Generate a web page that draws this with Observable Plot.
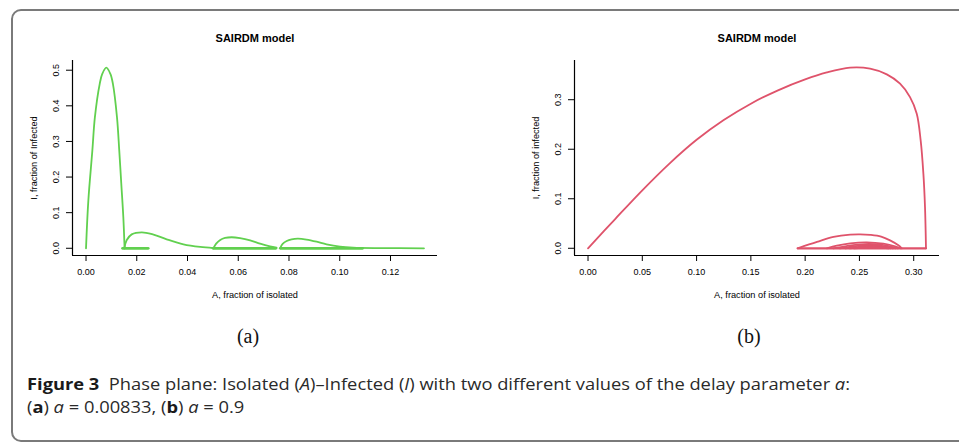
<!DOCTYPE html>
<html>
<head>
<meta charset="utf-8">
<script src="https://cdn.jsdelivr.net/npm/d3@7"></script>
<script src="https://cdn.jsdelivr.net/npm/@observablehq/plot@0.6"></script>
<style>
  html, body { margin: 0; padding: 0; background: #fff; }
  #page { position: relative; width: 959px; height: 442px; overflow: hidden; background: #fff; }
  #frame { position: absolute; left: 11px; top: 9px; width: 1100px; height: 433px; box-sizing: border-box;
           border: 2px solid #7a7a7a; border-radius: 10px; z-index: 5; pointer-events: none; }
  .panel { position: absolute; top: 0; }
  .panel svg { background: transparent !important; }
  .sub { position: absolute; font-family: "Liberation Serif", "DejaVu Serif", serif; font-size: 20px; line-height: 1;
         transform: translate(-50%, -50%); color: #111; }
  #caption { position: absolute; left: 27px; top: 373px; font-family: "Open Sans", "Noto Sans", sans-serif; font-size: 16px;
             line-height: 23px; color: #2a2a2a; white-space: nowrap; transform-origin: 0 0; }
  #caption b { font-weight: 700; color: #1a1a1a; }
</style>
</head>
<body>
<div id="page">
  <div id="frame"></div>
  <div id="left" class="panel" style="left:0px"></div>
  <div id="right" class="panel" style="left:480px"></div>
  <div class="sub" style="left:248px; top:336px">(a)</div>
  <div class="sub" style="left:749px; top:336px">(b)</div>
  <div id="caption">
    <div><span id="cap1"><b>Figure 3</b>&nbsp; Phase plane: Isolated (<i>A</i>)–Infected (<i>I</i>) with two different values of the delay parameter <i>a</i>:</span></div>
    <div>(<b>a</b>) <i>a</i> = 0.00833, (<b>b</b>) <i>a</i> = 0.9</div>
  </div>
</div>
<script>
// ---------- Panel (a): a = 0.00833 ----------
const leftTitle = "SAIRDM model";
const leftXLabel = "A, fraction of isolated";
const leftYLabel = "I, fraction of Infected";
const leftXTicks = [0, 0.02, 0.04, 0.06, 0.08, 0.10, 0.12];
const leftXTickLabels = ["0.00", "0.02", "0.04", "0.06", "0.08", "0.10", "0.12"];
const leftYTicks = [0, 0.1, 0.2, 0.3, 0.4, 0.5];
const leftYTickLabels = ["0.0", "0.1", "0.2", "0.3", "0.4", "0.5"];

// trajectory pieces (A values, I values)
const leftCurveA = [
  [0, 0.00092, 0.0025, 0.0035, 0.0054, 0.0064, 0.0080, 0.0096, 0.0106, 0.0122, 0.0131, 0.0139, 0.0147, 0.0152],
  [0.0151, 0.0160, 0.0180, 0.0220, 0.0266, 0.0318, 0.0384, 0.0450, 0.0502],
  [0.0502, 0.0513, 0.0529, 0.0548, 0.0574, 0.0607, 0.0647, 0.0686, 0.0725, 0.0751],
  [0.0765, 0.0775, 0.0791, 0.0810, 0.0835, 0.0869, 0.0909, 0.0948, 0.1001, 0.1053, 0.1158, 0.1332]
];
const leftCurveI = [
  [0, 0.1346, 0.2748, 0.3682, 0.4617, 0.4897, 0.5070, 0.4897, 0.4617, 0.3682, 0.2748, 0.1813, 0.0879, 0],
  [0, 0.0224, 0.0390, 0.0449, 0.0383, 0.0252, 0.0112, 0.0037, 0.0005],
  [0, 0.0130, 0.0234, 0.0290, 0.0310, 0.0285, 0.0222, 0.0130, 0.0056, 0.0020],
  [0, 0.0125, 0.0205, 0.0250, 0.0270, 0.0245, 0.0185, 0.0112, 0.0047, 0.0019, 0.0005, 0]
];
// segments retraced along I = 0
const leftBaseA = [[0.0144, 0.0245], [0.0501, 0.0748], [0.0766, 0.1090]];

// ---------- Panel (b): a = 0.9 ----------
const rightTitle = "SAIRDM model";
const rightXLabel = "A, fraction of isolated";
const rightYLabel = "I, fraction of infected";
const rightXTicks = [0, 0.05, 0.10, 0.15, 0.20, 0.25, 0.30];
const rightXTickLabels = ["0.00", "0.05", "0.10", "0.15", "0.20", "0.25", "0.30"];
const rightYTicks = [0, 0.1, 0.2, 0.3];
const rightYTickLabels = ["0.0", "0.1", "0.2", "0.3"];

const rightCurveA = [
  [0, 0.025, 0.050, 0.075, 0.100, 0.125, 0.150, 0.175, 0.200, 0.220, 0.2414, 0.2598, 0.2752, 0.2874, 0.2966, 0.3028, 0.3064, 0.3089, 0.3104, 0.3113],
  [0.1931, 0.2109, 0.2261, 0.2415, 0.2506, 0.2600, 0.2700, 0.2782, 0.2859, 0.2890],
  [0.2200, 0.2292, 0.2415, 0.2568, 0.2721, 0.2828, 0.2874],
  [0.2260, 0.2380, 0.2550, 0.2700, 0.2800, 0.2855],
  [0.2320, 0.2430, 0.2560, 0.2690, 0.2780, 0.2835],
  [0.2370, 0.2470, 0.2570, 0.2680, 0.2760, 0.2810],
  [0.2410, 0.2500, 0.2580, 0.2670, 0.2740, 0.2790],
  [0.2450, 0.2520, 0.2590, 0.2660, 0.2720, 0.2770]
];
const rightCurveI = [
  [0, 0.059, 0.117, 0.171, 0.219, 0.259, 0.292, 0.319, 0.341, 0.355, 0.3646, 0.3626, 0.3511, 0.3323, 0.3053, 0.2717, 0.2179, 0.1507, 0.0834, 0],
  [0, 0.0128, 0.0229, 0.0276, 0.0282, 0.0270, 0.0235, 0.0160, 0.0060, 0],
  [0, 0.0054, 0.0101, 0.0121, 0.0094, 0.0040, 0],
  [0, 0.0045, 0.0085, 0.0072, 0.0030, 0],
  [0, 0.0035, 0.0062, 0.0052, 0.0020, 0],
  [0, 0.0025, 0.0044, 0.0037, 0.0015, 0],
  [0, 0.0016, 0.0030, 0.0025, 0.0010, 0],
  [0, 0.0010, 0.0018, 0.0015, 0.0006, 0]
];
const rightBaseA = [[0.1931, 0.3113]];

// ---------- drawing ----------
function padded(values) {
  const [lo, hi] = d3.extent(values);
  const p = (hi - lo) * 0.04;
  return [lo - p, hi + p];
}

function panel(cfg) {
  const rows = [];
  cfg.curveA.forEach((arr, k) => arr.forEach((a, i) => rows.push({A: a, I: cfg.curveI[k][i], seg: k})));
  const baseRows = [];
  cfg.baseA.forEach((arr, k) => arr.forEach(a => baseRows.push({A: a, I: 0, seg: k})));
  const xDomain = padded(rows.map(d => d.A).concat(baseRows.map(d => d.A)));
  const yDomain = padded(rows.map(d => d.I));
  const xLab = new Map(cfg.xTicks.map((t, i) => [t, cfg.xTickLabels[i]]));
  return Plot.plot({
    width: cfg.width,
    height: 310,
    marginTop: 60,
    marginBottom: 55,
    marginLeft: cfg.marginLeft,
    marginRight: cfg.marginRight,
    style: {fontFamily: "'Liberation Sans', Arial, sans-serif", fontSize: "9px", background: "transparent", color: "#000", overflow: "visible"},
    x: {domain: xDomain},
    y: {domain: yDomain},
    marks: [
      Plot.ruleX([xDomain[0]], {stroke: "#000", strokeWidth: 1.2}),
      Plot.ruleY([yDomain[0]], {stroke: "#000", strokeWidth: 1.2}),
      Plot.axisX({ticks: cfg.xTicks, tickSize: 6, tickPadding: 7, tickFormat: d => xLab.get(d), label: null, fontSize: 9}),
      Plot.axisY({ticks: cfg.yTicks, tickSize: 6, tickFormat: () => "", label: null}),
      Plot.text(cfg.yTicks, {y: d => d, text: (d, i) => cfg.yTickLabels[i], frameAnchor: "left", dx: -16, rotate: -90,
                             textAnchor: "middle", lineAnchor: "middle", fontSize: 9}),
      Plot.line(baseRows, {x: "A", y: "I", z: "seg", stroke: cfg.color, strokeWidth: cfg.baseWidth}),
      Plot.line(rows, {x: "A", y: "I", z: "seg", stroke: cfg.color, strokeWidth: 1.8, curve: "catmull-rom"}),
      Plot.text([cfg.title], {frameAnchor: "top", dy: -22, textAnchor: "middle", lineAnchor: "middle", fontWeight: "bold", fontSize: 11}),
      Plot.text([cfg.xLabel], {frameAnchor: "bottom", dy: 40, textAnchor: "middle", lineAnchor: "middle", fontSize: 9.2}),
      Plot.text([cfg.yLabel], {frameAnchor: "left", dx: -38, rotate: -90, textAnchor: "middle", lineAnchor: "middle", fontSize: 9.2})
    ]
  });
}

document.getElementById("left").append(panel({
  width: 480, marginLeft: 72, marginRight: 43, color: "#61D04F", baseWidth: 2.8,
  curveA: leftCurveA, curveI: leftCurveI, baseA: leftBaseA,
  xTicks: leftXTicks, xTickLabels: leftXTickLabels, yTicks: leftYTicks, yTickLabels: leftYTickLabels,
  title: leftTitle, xLabel: leftXLabel, yLabel: leftYLabel
}));
document.getElementById("right").append(panel({
  width: 479, marginLeft: 94, marginRight: 20, color: "#DF536B", baseWidth: 2.2,
  curveA: rightCurveA, curveI: rightCurveI, baseA: rightBaseA,
  xTicks: rightXTicks, xTickLabels: rightXTickLabels, yTicks: rightYTicks, yTickLabels: rightYTickLabels,
  title: rightTitle, xLabel: rightXLabel, yLabel: rightYLabel
}));

// stretch the caption horizontally so its first line spans the same width as in the figure
function fitCaption() {
  const cap = document.getElementById("caption");
  const span = document.getElementById("cap1");
  cap.style.transform = "none";
  const w = span.getBoundingClientRect().width;
  cap.style.transform = "scaleX(" + (823 / w).toFixed(4) + ")";
}
fitCaption();
if (document.fonts && document.fonts.ready) document.fonts.ready.then(fitCaption);
</script>
</body>
</html>
